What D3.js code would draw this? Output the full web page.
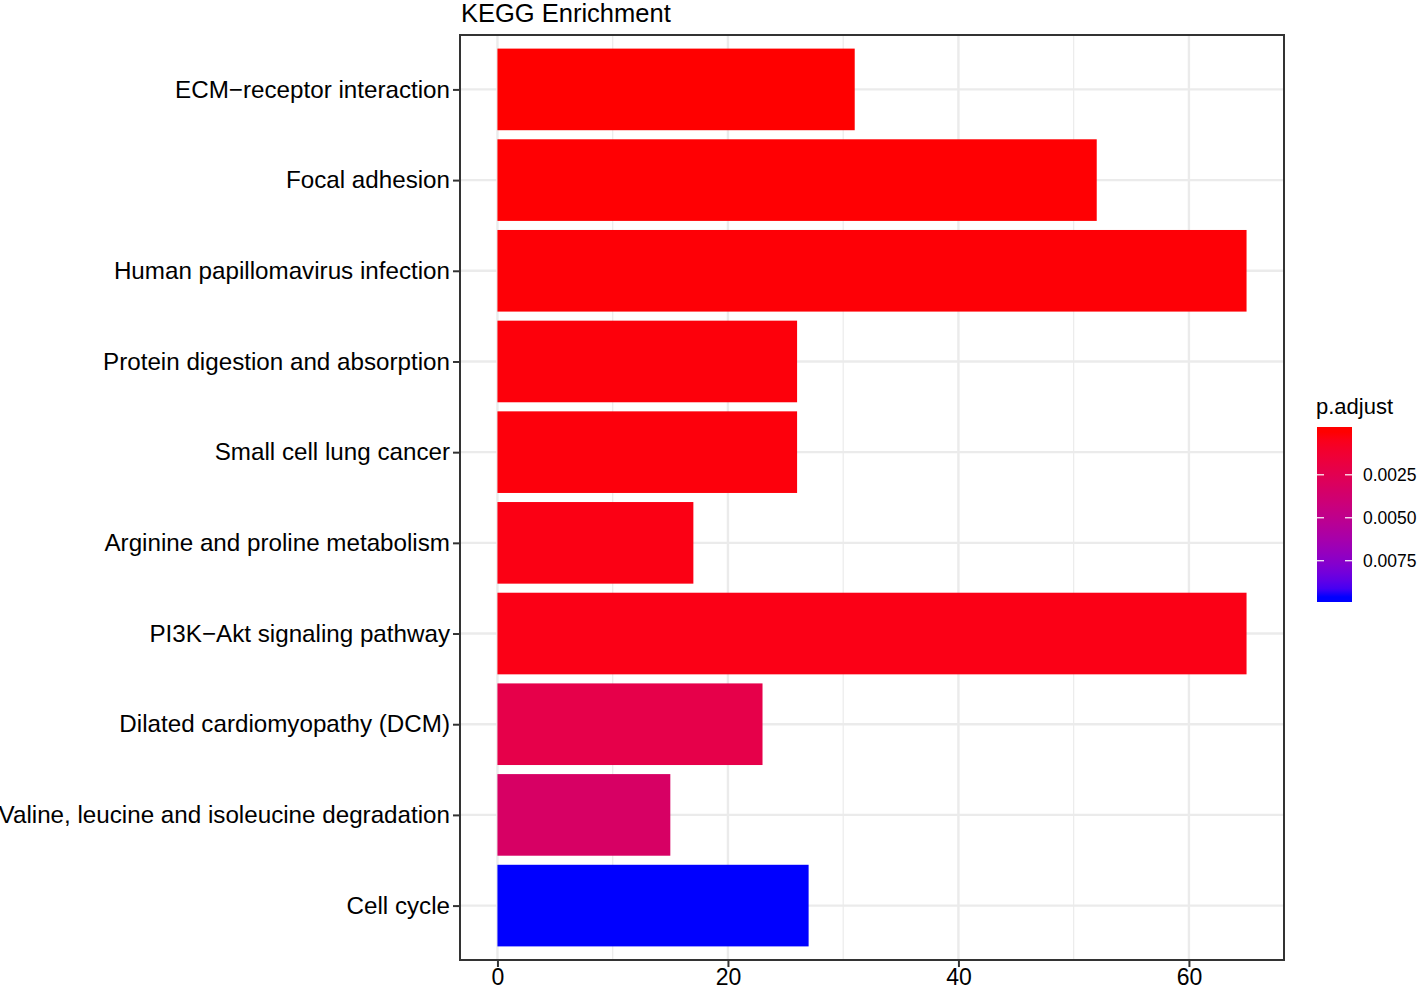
<!DOCTYPE html>
<html>
<head>
<meta charset="utf-8">
<script src="https://cdn.jsdelivr.net/npm/d3@7"></script>
<style>
  html, body { margin: 0; padding: 0; background: #fff; }
  svg { display: block; font-family: "Liberation Sans", Arial, Helvetica, sans-serif; }
</style>
</head>
<body>
<svg id="chart" width="1418" height="989"></svg>
<script>
// ---- data ----
const categories = [
  "ECM\u2212receptor interaction",
  "Focal adhesion",
  "Human papillomavirus infection",
  "Protein digestion and absorption",
  "Small cell lung cancer",
  "Arginine and proline metabolism",
  "PI3K\u2212Akt signaling pathway",
  "Dilated cardiomyopathy (DCM)",
  "Valine, leucine and isoleucine degradation",
  "Cell cycle"
];
const counts = [31, 52, 65, 26, 26, 17, 65, 23, 15, 27];
const padjust = [0.00001, 0.00005, 0.00010, 0.00018, 0.00020, 0.00035, 0.00040, 0.00220, 0.00330, 0.00961];
const xTicks = [0, 20, 40, 60];
const xMinorTicks = [10, 30, 50];
const legendTicks = [0.0025, 0.0050, 0.0075];

// ---- layout ----
const svg = d3.select("#chart");
const panel = { left: 460, right: 1284, top: 35, bottom: 960 };

const x = d3.scaleLinear().domain([-3.25, 68.25]).range([panel.left, panel.right]);
const y = d3.scalePoint().domain(categories).range([panel.top, panel.bottom]).padding(0.6);
const barH = y.step() * 0.9;

const pMin = d3.min(padjust), pMax = d3.max(padjust);
const color = d3.scaleLinear().domain([pMin, pMax]).range(["red", "blue"]).interpolate(d3.interpolateLab);

// gridlines
const grid = svg.append("g");
grid.selectAll(".minor").data(xMinorTicks).join("line")
  .attr("x1", d => x(d)).attr("x2", d => x(d))
  .attr("y1", panel.top).attr("y2", panel.bottom)
  .attr("stroke", "#ebebeb").attr("stroke-width", 1.2);
grid.selectAll(".majorx").data(xTicks).join("line")
  .attr("x1", d => x(d)).attr("x2", d => x(d))
  .attr("y1", panel.top).attr("y2", panel.bottom)
  .attr("stroke", "#ebebeb").attr("stroke-width", 2.4);
grid.selectAll(".majory").data(categories).join("line")
  .attr("x1", panel.left).attr("x2", panel.right)
  .attr("y1", d => y(d)).attr("y2", d => y(d))
  .attr("stroke", "#ebebeb").attr("stroke-width", 2.4);

// bars
svg.append("g").selectAll("rect").data(categories).join("rect")
  .attr("x", x(0))
  .attr("y", d => y(d) - barH / 2)
  .attr("width", (d, i) => x(counts[i]) - x(0))
  .attr("height", barH)
  .attr("fill", (d, i) => color(padjust[i]));

// panel border
svg.append("rect")
  .attr("x", panel.left).attr("y", panel.top)
  .attr("width", panel.right - panel.left).attr("height", panel.bottom - panel.top)
  .attr("fill", "none").attr("stroke", "#333333").attr("stroke-width", 2);

// x axis
const xAxis = d3.axisBottom(x).tickValues(xTicks).tickSize(7).tickPadding(2).tickFormat(d3.format("d"));
const gx = svg.append("g").attr("transform", `translate(0,${panel.bottom})`).call(xAxis);
gx.select(".domain").remove();
gx.selectAll(".tick line").attr("stroke", "#333333").attr("stroke-width", 2);
gx.selectAll(".tick text").attr("fill", "#000").attr("font-size", 23).attr("font-family", "Liberation Sans, Arial, sans-serif");

// y axis
const yAxis = d3.axisLeft(y).tickSize(7).tickPadding(3);
const gy = svg.append("g").attr("transform", `translate(${panel.left},0)`).call(yAxis);
gy.select(".domain").remove();
gy.selectAll(".tick line").attr("stroke", "#333333").attr("stroke-width", 2);
gy.selectAll(".tick text").attr("fill", "#000").attr("font-size", 24.2).attr("font-family", "Liberation Sans, Arial, sans-serif");

// title
svg.append("text").attr("x", 461).attr("y", 22)
  .attr("font-size", 25.5).attr("fill", "#000").text("KEGG Enrichment");

// legend
const lg = { x: 1317, top: 427, bottom: 602, w: 35 };
const defs = svg.append("defs");
const grad = defs.append("linearGradient").attr("id", "lgGrad")
  .attr("x1", 0).attr("y1", 0).attr("x2", 0).attr("y2", 1);
const nStops = 20;
d3.range(nStops + 1).forEach(i => {
  const t = i / nStops;
  grad.append("stop").attr("offset", t).attr("stop-color", color(pMin + t * (pMax - pMin)));
});
const inset = 5;
const ly = d3.scaleLinear().domain([pMin, pMax]).range([lg.top + inset, lg.bottom - inset]);

svg.append("text").attr("x", 1316).attr("y", 414)
  .attr("font-size", 22).attr("fill", "#000").text("p.adjust");
svg.append("rect").attr("x", lg.x).attr("y", lg.top).attr("width", lg.w).attr("height", ly(pMin) - lg.top)
  .attr("fill", color(pMin));
svg.append("rect").attr("x", lg.x).attr("y", ly(pMax)).attr("width", lg.w).attr("height", lg.bottom - ly(pMax))
  .attr("fill", color(pMax));
svg.append("rect").attr("x", lg.x).attr("y", ly(pMin)).attr("width", lg.w).attr("height", ly(pMax) - ly(pMin))
  .attr("fill", "url(#lgGrad)");

const lt = svg.append("g").selectAll("g").data(legendTicks).join("g");
lt.append("line").attr("x1", lg.x).attr("x2", lg.x + 7)
  .attr("y1", d => ly(d)).attr("y2", d => ly(d)).attr("stroke", "#fff").attr("stroke-width", 1.2);
lt.append("line").attr("x1", lg.x + lg.w - 7).attr("x2", lg.x + lg.w)
  .attr("y1", d => ly(d)).attr("y2", d => ly(d)).attr("stroke", "#fff").attr("stroke-width", 1.2);
lt.append("text").attr("x", 1363).attr("y", d => ly(d)).attr("dy", "0.35em")
  .attr("font-size", 17.5).attr("fill", "#000").text(d => d3.format(".4f")(d));
</script>
</body>
</html>
